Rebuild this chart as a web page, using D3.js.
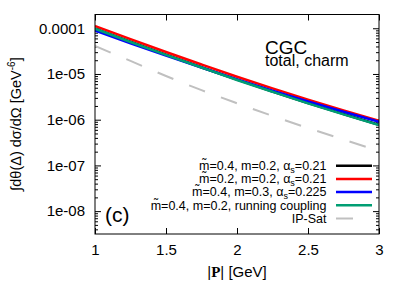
<!DOCTYPE html>
<html>
<head>
<meta charset="utf-8">
<script src="https://cdn.jsdelivr.net/npm/d3@7"></script>
<style>
  body { margin: 0; background: #fff; }
  svg { display: block; font-family: "Liberation Sans", Arial, sans-serif; }
</style>
</head>
<body>
<svg width="407" height="284"></svg>
<script>
var width = 407, height = 284;
var plotL = 95, plotR = 379, plotT = 14.5, plotB = 234;

// |P| values in GeV
var momenta = [1, 1.25, 1.5, 1.75, 2, 2.25, 2.5, 2.75, 3];
// cross section, GeV^-6
var blackVals = [9.9e-5, 5.07e-5, 2.65e-5, 1.40e-5, 7.5e-6, 4.13e-6, 2.31e-6, 1.33e-6, 7.75e-7];
var redVals   = [1.12e-4, 5.77e-5, 3.03e-5, 1.61e-5, 8.69e-6, 4.84e-6, 2.75e-6, 1.60e-6, 9.5e-7];
var blueVals  = [8.93e-5, 4.71e-5, 2.54e-5, 1.385e-5, 7.62e-6, 4.33e-6, 2.51e-6, 1.49e-6, 9.03e-7];
var greenVals = [9.78e-5, 5.01e-5, 2.62e-5, 1.385e-5, 7.40e-6, 4.08e-6, 2.28e-6, 1.31e-6, 7.65e-7];
var ipsatVals = [4.10e-5, 1.93e-5, 9.04e-6, 4.43e-6, 2.29e-6, 1.21e-6, 6.58e-7, 3.67e-7, 2.07e-7];

var xTicks = [1, 1.5, 2, 2.5, 3];
var yTicks = [1e-8, 1e-7, 1e-6, 1e-5, 1e-4];
var yTickLabels = ["1e-08", "1e-07", "1e-06", "1e-05", "0.0001"];

var series = [
  {vals: blackVals, color: "#000000", dash: null, label: ["m\u0303=0.4, m=0.2, \u03b1", "s", "=0.21"]},
  {vals: redVals,   color: "#ff0000", dash: null, label: ["m\u0303=0.2, m=0.2, \u03b1", "s", "=0.21"]},
  {vals: blueVals,  color: "#0000ff", dash: null, label: ["m\u0303=0.4, m=0.3, \u03b1", "s", "=0.225"]},
  {vals: greenVals, color: "#009e73", dash: null, label: ["m\u0303=0.4, m=0.2, running coupling", "", ""]},
  {vals: ipsatVals, color: "#c0c0c0", dash: "17,17", label: ["IP-Sat", "", ""]}
];

var x = d3.scaleLinear().domain([1, 3]).range([plotL, plotR]);
var y = d3.scaleLog().domain([Math.pow(10, -8.5), 2e-4]).range([plotB, plotT]);

var svg = d3.select("svg");

svg.append("defs").append("clipPath").attr("id", "plotclip")
  .append("rect").attr("x", plotL).attr("y", plotT)
  .attr("width", plotR - plotL).attr("height", plotB - plotT);

// minor y ticks
var minor = [];
for (var e = -9; e <= -4; e++) {
  for (var k = 2; k <= 9; k++) {
    var v = k * Math.pow(10, e);
    if (v > y.domain()[0] && v < y.domain()[1]) minor.push(v);
  }
}

function styleAxis(g) {
  g.select(".domain").remove();
  g.selectAll("line").attr("stroke", "#000").attr("stroke-width", 1);
  g.selectAll("text").attr("fill", "#000");
}

svg.append("g").attr("transform", "translate(" + plotL + ",0)")
  .call(d3.axisLeft(y).tickValues(yTicks).tickSize(-6).tickPadding(10)
    .tickFormat(function(d, i) { return yTickLabels[i]; }))
  .call(styleAxis)
  .selectAll("text").attr("font-size", 15).attr("font-family", "Liberation Sans, Arial, sans-serif");

svg.append("g").attr("transform", "translate(" + plotL + ",0)")
  .call(d3.axisLeft(y).tickValues(minor).tickSize(-3).tickFormat(""))
  .call(styleAxis);

svg.append("g").attr("transform", "translate(" + plotR + ",0)")
  .call(d3.axisRight(y).tickValues(yTicks).tickSize(-6).tickFormat(""))
  .call(styleAxis);

svg.append("g").attr("transform", "translate(" + plotR + ",0)")
  .call(d3.axisRight(y).tickValues(minor).tickSize(-3).tickFormat(""))
  .call(styleAxis);

svg.append("g").attr("transform", "translate(0," + plotB + ")")
  .call(d3.axisBottom(x).tickValues(xTicks).tickSize(-6).tickPadding(10).tickFormat(d3.format("")))
  .call(styleAxis)
  .selectAll("text").attr("font-size", 15).attr("font-family", "Liberation Sans, Arial, sans-serif");

svg.append("g").attr("transform", "translate(0," + plotT + ")")
  .call(d3.axisTop(x).tickValues(xTicks).tickSize(-6).tickFormat(""))
  .call(styleAxis);

// curves
var line = d3.line()
  .x(function(d, i) { return x(momenta[i]); })
  .y(function(d) { return y(d); })
  .curve(d3.curveMonotoneX);

var plot = svg.append("g").attr("clip-path", "url(#plotclip)");
series.forEach(function(s) {
  plot.append("path")
    .attr("d", line(s.vals))
    .attr("fill", "none")
    .attr("stroke", s.color)
    .attr("stroke-width", s.dash ? 2 : 2.5)
    .attr("stroke-dasharray", s.dash);
});

// frame
svg.append("rect")
  .attr("x", plotL).attr("y", plotT)
  .attr("width", plotR - plotL).attr("height", plotB - plotT)
  .attr("fill", "none").attr("stroke", "#000").attr("stroke-width", 1);

// legend
var legend = svg.append("g");
series.forEach(function(s, i) {
  var ly = 165.7 + i * 13.2;
  var t = legend.append("text")
    .attr("x", 326.5).attr("y", ly + 4.3)
    .attr("text-anchor", "end")
    .attr("font-size", 12.5);
  t.append("tspan").text(s.label[0]);
  if (s.label[1]) {
    t.append("tspan").attr("font-size", 9).attr("dy", 3).text(s.label[1]);
    t.append("tspan").attr("dy", -3).text(s.label[2]);
  }
  legend.append("line")
    .attr("x1", 336).attr("x2", s.dash ? 353 : 372)
    .attr("y1", ly).attr("y2", ly)
    .attr("stroke", s.color)
    .attr("stroke-width", s.dash ? 2 : 2.5);
});

// annotations
svg.append("text").attr("x", 265).attr("y", 53.5).attr("font-size", 19).text("CGC");
svg.append("text").attr("x", 265).attr("y", 66).attr("font-size", 16).text("total, charm");
svg.append("text").attr("x", 105).attr("y", 222).attr("font-size", 21).text("(c)");

// axis titles
var xt = svg.append("text").attr("x", 237).attr("y", 276.5)
  .attr("text-anchor", "middle").attr("font-size", 15);
xt.append("tspan").text("|");
xt.append("tspan").attr("font-family", "Liberation Serif, serif").attr("font-weight", "bold").text("P");
xt.append("tspan").text("| [GeV]");

var yt = svg.append("text")
  .attr("transform", "translate(21,124) rotate(-90)")
  .attr("text-anchor", "middle").attr("font-size", 14.5);
yt.append("tspan").text("\u222bd\u03b8(\u0394) d\u03c3/d\u03a9  [GeV");
yt.append("tspan").attr("font-size", 10).attr("dy", -6).text("-6");
yt.append("tspan").attr("dy", 6).text("]");
</script>
</body>
</html>
